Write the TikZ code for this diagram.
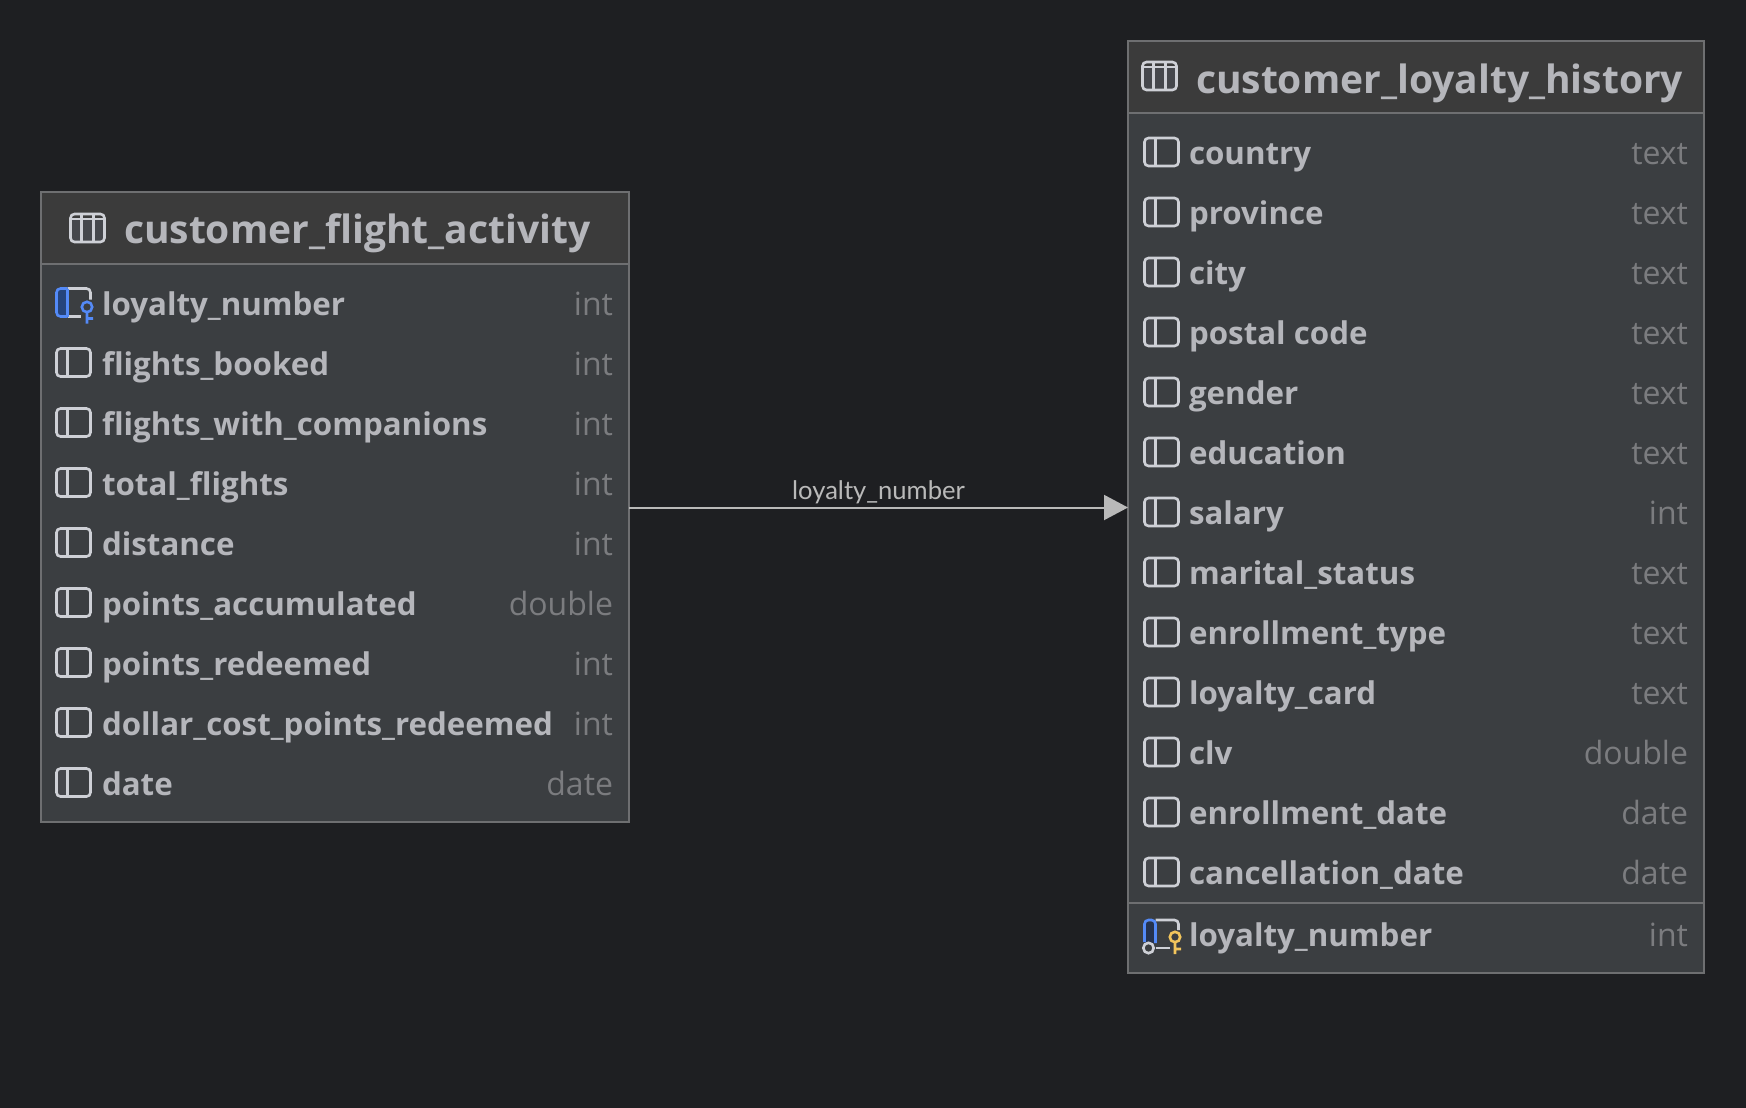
\documentclass[tikz,border=0pt]{standalone}
\usepackage{fontspec}
\setmainfont{Open Sans}
\newfontfamily\edgefont{Lato}
\usepackage{xcolor}
\usetikzlibrary{arrows.meta, positioning}
\definecolor{canvascolor}{HTML}{1E1F22}
\definecolor{bodycolor}{HTML}{3B3E41}
\definecolor{headcolor}{HTML}{3B3B3B}
\definecolor{framecolor}{HTML}{6E6F71}
\definecolor{namecolor}{HTML}{B5B6BB}
\definecolor{typecolor}{HTML}{7B7C7F}
\definecolor{iconcolor}{HTML}{CED0D6}
\definecolor{iconfill}{HTML}{45474C}
\definecolor{pkblue}{HTML}{548AF7}
\definecolor{pkfill}{HTML}{25447C}
\definecolor{fkfill}{HTML}{25324D}
\definecolor{keygold}{HTML}{F2C55C}
\definecolor{edgecolor}{HTML}{B9B9B9}

\tikzset{
    colicon/.pic={
        \fill[iconfill, rounded corners=4pt] (-17,-14) rectangle (-6,14);
        \draw[iconcolor, line width=2.6pt, rounded corners=4pt] (-17,-14) rectangle (17,14);
        \draw[iconcolor, line width=2.6pt] (-6,-14) -- (-6,14);
    },
    tableicon/.pic={
        \fill[iconfill, rounded corners=4pt] (-17,-9) rectangle (17,14);
        \draw[iconcolor, line width=2.6pt, rounded corners=4pt] (-17,-14) rectangle (17,14);
        \draw[iconcolor, line width=2.6pt] (-17,-9) -- (17,-9) (-6,-14) -- (-6,14) (6,-14) -- (6,14);
    },
    pkicon/.pic={
        \fill[pkfill, rounded corners=4pt] (-17,-14) rectangle (-6,14);
        \draw[iconcolor, line width=2.6pt, rounded corners=4pt] (-6,-14) -- (17,-14) -- (17,-3);
        \draw[iconcolor, line width=2.6pt] (-6,14) -- (7,14);
        \draw[pkblue, line width=2.6pt, rounded corners=4pt] (-6,-14) -- (-17,-14) -- (-17,14) -- (-6,14);
        \draw[pkblue, line width=2.6pt] (-6,-14) -- (-6,14);
        \draw[pkblue, line width=2.6pt] (13.5,4.5) circle (5.2) (13.5,10) -- (13.5,21) (13.5,16) -- (19.5,16);
    },
    fkicon/.pic={
        \fill[fkfill] (-17,-12) rectangle (-6,9);
        \draw[iconcolor, line width=2.6pt, rounded corners=4pt] (-6,-14) -- (17,-14) -- (17,-4);
        \draw[iconcolor, line width=2.6pt] (-6,14) -- (8,14);
        \draw[pkblue, line width=2.6pt, rounded corners=4pt] (-17,8) -- (-17,-14) -- (-6,-14) -- (-6,9);
        \draw[iconcolor, line width=2.6pt] (-13,14) circle (5.2);
        \draw[keygold, line width=2.6pt] (13.5,3) circle (5.2) (13.5,8.5) -- (13.5,20) (13.5,15) -- (19.5,15);
    }
}

\begin{document}
\begin{tikzpicture}[
    x=1pt, y=-1pt,
    tablehead/.style={draw=framecolor, fill=headcolor, line width=2pt, inner sep=0pt, outer sep=0pt, anchor=north west},
    tablebody/.style={draw=framecolor, fill=bodycolor, line width=2pt, inner sep=0pt, outer sep=0pt, anchor=north west},
    tabletitle/.style={anchor=base west, inner sep=0pt, outer sep=0pt, text=namecolor, font=\fontsize{39}{39}\selectfont\bfseries},
    colname/.style={inner sep=0pt, outer sep=0pt, minimum height=60pt, text height=41pt, text depth=19pt, text=namecolor, font=\fontsize{31.3}{31.3}\selectfont\bfseries},
    coltype/.style={anchor=base east, inner sep=0pt, outer sep=0pt, xshift=-16pt, text=typecolor, font=\fontsize{32}{32}\selectfont},
    arrow/.style={-{Triangle[length=24pt, width=25pt]}, edgecolor, line width=2pt},
    edgelabel/.style={inner sep=0pt, outer sep=0pt, text=edgecolor, font=\fontsize{25.6}{25.6}\selectfont\edgefont}
]
    \useasboundingbox[fill=canvascolor] (0,0) rectangle (1746,1108);

    % Left table
    \node[tablehead, minimum width=588pt, minimum height=73pt] (flighthead) at (41,192) {};
    \node[tablebody, minimum width=588pt, minimum height=558pt] (flightbody) at (41,264) {};
    \pic at ([xshift=46.5pt,yshift=0.5pt]flighthead.west) {tableicon};
    \node[tabletitle] (flighttitle) at ([xshift=83pt,yshift=-14.5pt]flighthead.west) {customer\_flight\_activity};

    \node[colname, anchor=north west] (f1) at (102,274) {loyalty\_number};
    \node[colname, below=0pt of f1.south west, anchor=north west] (f2) {flights\_booked};
    \node[colname, below=0pt of f2.south west, anchor=north west] (f3) {flights\_with\_companions};
    \node[colname, below=0pt of f3.south west, anchor=north west] (f4) {total\_flights};
    \node[colname, below=0pt of f4.south west, anchor=north west] (f5) {distance};
    \node[colname, below=0pt of f5.south west, anchor=north west] (f6) {points\_accumulated};
    \node[colname, below=0pt of f6.south west, anchor=north west] (f7) {points\_redeemed};
    \node[colname, below=0pt of f7.south west, anchor=north west] (f8) {dollar\_cost\_points\_redeemed};
    \node[colname, below=0pt of f8.south west, anchor=north west] (f9) {date};

    \node[coltype] (ft1) at (f1.base -| flightbody.east) {int};
    \node[coltype] (ft2) at (f2.base -| flightbody.east) {int};
    \node[coltype] (ft3) at (f3.base -| flightbody.east) {int};
    \node[coltype] (ft4) at (f4.base -| flightbody.east) {int};
    \node[coltype] (ft5) at (f5.base -| flightbody.east) {int};
    \node[coltype] (ft6) at (f6.base -| flightbody.east) {double};
    \node[coltype] (ft7) at (f7.base -| flightbody.east) {int};
    \node[coltype] (ft8) at (f8.base -| flightbody.east) {int};
    \node[coltype] (ft9) at (f9.base -| flightbody.east) {date};

    \pic at ([xshift=-28.5pt,yshift=1.5pt]f1.west) {pkicon};
    \pic at ([xshift=-28.5pt,yshift=1.5pt]f2.west) {colicon};
    \pic at ([xshift=-28.5pt,yshift=1.5pt]f3.west) {colicon};
    \pic at ([xshift=-28.5pt,yshift=1.5pt]f4.west) {colicon};
    \pic at ([xshift=-28.5pt,yshift=1.5pt]f5.west) {colicon};
    \pic at ([xshift=-28.5pt,yshift=1.5pt]f6.west) {colicon};
    \pic at ([xshift=-28.5pt,yshift=1.5pt]f7.west) {colicon};
    \pic at ([xshift=-28.5pt,yshift=1.5pt]f8.west) {colicon};
    \pic at ([xshift=-28.5pt,yshift=1.5pt]f9.west) {colicon};

    % Right table
    \node[tablehead, minimum width=576pt, minimum height=72pt] (historyhead) at (1128,41) {};
    \node[tablebody, minimum width=576pt, minimum height=860pt] (historybody) at (1128,113) {};
    \pic at ([xshift=31.5pt,yshift=1pt]historyhead.west) {tableicon};
    \node[tabletitle] (historytitle) at ([xshift=68pt,yshift=-16pt]historyhead.west) {customer\_loyalty\_history};

    \node[colname, anchor=north west] (h1) at (1189,123) {country};
    \node[colname, below=0pt of h1.south west, anchor=north west] (h2) {province};
    \node[colname, below=0pt of h2.south west, anchor=north west] (h3) {city};
    \node[colname, below=0pt of h3.south west, anchor=north west] (h4) {postal code};
    \node[colname, below=0pt of h4.south west, anchor=north west] (h5) {gender};
    \node[colname, below=0pt of h5.south west, anchor=north west] (h6) {education};
    \node[colname, below=0pt of h6.south west, anchor=north west] (h7) {salary};
    \node[colname, below=0pt of h7.south west, anchor=north west] (h8) {marital\_status};
    \node[colname, below=0pt of h8.south west, anchor=north west] (h9) {enrollment\_type};
    \node[colname, below=0pt of h9.south west, anchor=north west] (h10) {loyalty\_card};
    \node[colname, below=0pt of h10.south west, anchor=north west] (h11) {clv};
    \node[colname, below=0pt of h11.south west, anchor=north west] (h12) {enrollment\_date};
    \node[colname, below=0pt of h12.south west, anchor=north west] (h13) {cancellation\_date};
    \node[colname, below=2pt of h13.south west, anchor=north west] (h14) {loyalty\_number};

    \node[coltype] (ht1) at (h1.base -| historybody.east) {text};
    \node[coltype] (ht2) at (h2.base -| historybody.east) {text};
    \node[coltype] (ht3) at (h3.base -| historybody.east) {text};
    \node[coltype] (ht4) at (h4.base -| historybody.east) {text};
    \node[coltype] (ht5) at (h5.base -| historybody.east) {text};
    \node[coltype] (ht6) at (h6.base -| historybody.east) {text};
    \node[coltype] (ht7) at (h7.base -| historybody.east) {int};
    \node[coltype] (ht8) at (h8.base -| historybody.east) {text};
    \node[coltype] (ht9) at (h9.base -| historybody.east) {text};
    \node[coltype] (ht10) at (h10.base -| historybody.east) {text};
    \node[coltype] (ht11) at (h11.base -| historybody.east) {double};
    \node[coltype] (ht12) at (h12.base -| historybody.east) {date};
    \node[coltype] (ht13) at (h13.base -| historybody.east) {date};
    \node[coltype] (ht14) at (h14.base -| historybody.east) {int};

    \pic at ([xshift=-27.5pt,yshift=1pt]h1.west) {colicon};
    \pic at ([xshift=-27.5pt,yshift=1pt]h2.west) {colicon};
    \pic at ([xshift=-27.5pt,yshift=1pt]h3.west) {colicon};
    \pic at ([xshift=-27.5pt,yshift=1pt]h4.west) {colicon};
    \pic at ([xshift=-27.5pt,yshift=1pt]h5.west) {colicon};
    \pic at ([xshift=-27.5pt,yshift=1pt]h6.west) {colicon};
    \pic at ([xshift=-27.5pt,yshift=1pt]h7.west) {colicon};
    \pic at ([xshift=-27.5pt,yshift=1pt]h8.west) {colicon};
    \pic at ([xshift=-27.5pt,yshift=1pt]h9.west) {colicon};
    \pic at ([xshift=-27.5pt,yshift=1pt]h10.west) {colicon};
    \pic at ([xshift=-27.5pt,yshift=1pt]h11.west) {colicon};
    \pic at ([xshift=-27.5pt,yshift=1pt]h12.west) {colicon};
    \pic at ([xshift=-27.5pt,yshift=1pt]h13.west) {colicon};
    \pic at ([xshift=-27.5pt,yshift=1pt]h14.west) {fkicon};

    % Separator above the key column
    \coordinate (sepleft) at ([yshift=0pt]h13.south -| historybody.west);
    \coordinate (sepright) at ([yshift=0pt]h13.south -| historybody.east);
    \draw[framecolor, line width=2pt] (sepleft) -- (sepright);

    % Relationship
    \coordinate (fkfrom) at (flightbody.east |- 0,507.5);
    \coordinate (fkto) at (historybody.west |- 0,507.5);
    \draw[arrow] (fkfrom) -- (fkto) node[edgelabel, midway, above=4pt] (fklabel) {loyalty\_number};
\end{tikzpicture}
\end{document}
